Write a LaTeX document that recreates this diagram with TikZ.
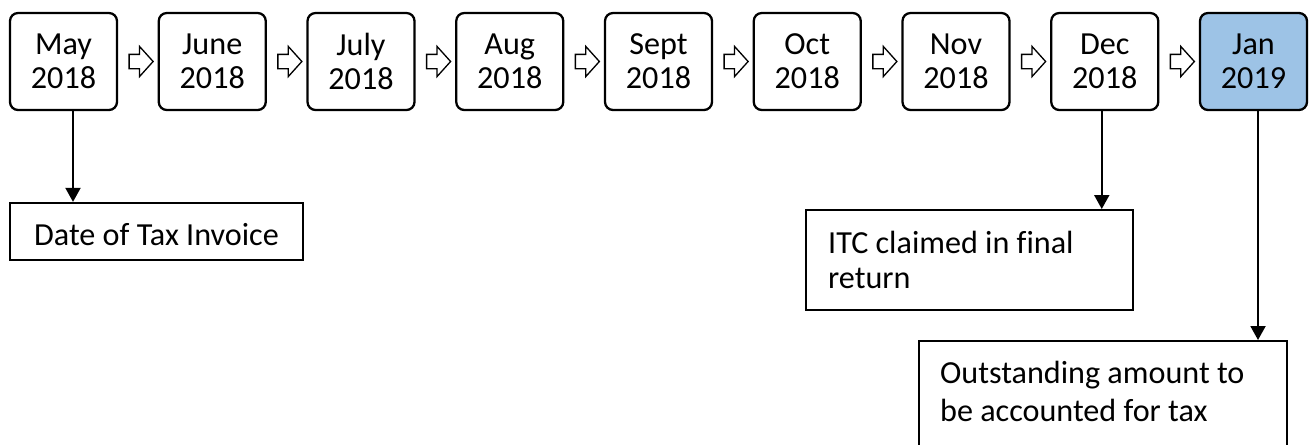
\documentclass[tikz,border=0pt]{standalone}
\usepackage{fontspec}
\setmainfont{Carlito}[Ligatures=CommonOff]
\usepackage{tikz}
\usepackage{xcolor}
\usetikzlibrary{shapes,arrows.meta,positioning,calc}
\definecolor{janblue}{HTML}{9DC3E6}

\begin{document}
\begin{tikzpicture}[
          x=0.02cm, y=-0.02cm,
          every node/.style={font=\fontsize{18.3pt}{19.4pt}\selectfont},
          month/.style={rectangle, draw, line width=1.3pt, rounded corners=0.16cm, minimum width=2.14cm, minimum height=1.94cm, inner sep=0pt, align=center},
          hop/.style={single arrow, draw, line width=0.75pt, minimum height=0.48cm, inner xsep=0pt, inner ysep=0.13cm, single arrow head extend=0.16cm, single arrow tip angle=96},
          note/.style={rectangle, draw, line width=1.3pt, anchor=north west, inner ysep=0pt, align=flush left},
          arrow/.style={-{Triangle[length=0.28cm, width=0.3cm]}, line width=1.1pt}
        ]
          \useasboundingbox (0,0) rectangle (1314,444);

          % Months
          \node[month] (may) at (63.5,61.5) {May\\2018};
          \node[month] (jun) at (212.25,61.5) {June\\2018};
          \node[month] (jul) at (361,61.5) {July\\2018};
          \node[month] (aug) at (509.75,61.5) {Aug\\2018};
          \node[month] (sep) at (658.5,61.5) {Sept\\2018};
          \node[month] (oct) at (807.25,61.5) {Oct\\2018};
          \node[month] (nov) at (956,61.5) {Nov\\2018};
          \node[month] (dec) at (1104.75,61.5) {Dec\\2018};
          \node[month, fill=janblue] (jan) at (1253.5,61.5) {Jan\\2019};

          % Hollow arrows between months
          \node[hop] (hop1) at ($(may.east)!0.5!(jun.west)$) {};
          \node[hop] (hop2) at ($(jun.east)!0.5!(jul.west)$) {};
          \node[hop] (hop3) at ($(jul.east)!0.5!(aug.west)$) {};
          \node[hop] (hop4) at ($(aug.east)!0.5!(sep.west)$) {};
          \node[hop] (hop5) at ($(sep.east)!0.5!(oct.west)$) {};
          \node[hop] (hop6) at ($(oct.east)!0.5!(nov.west)$) {};
          \node[hop] (hop7) at ($(nov.east)!0.5!(dec.west)$) {};
          \node[hop] (hop8) at ($(dec.east)!0.5!(jan.west)$) {};

          % Notes
          \node[rectangle, draw, line width=1.3pt, minimum width=5.86cm, minimum height=1.14cm, text height=0.54cm, text depth=0pt] (invoice) at (156.5,231.5) {Date of Tax Invoice};
          \node[note, inner xsep=0.44cm, text width=5.66cm] (itc) at (805,209)
            {\rule{0pt}{0.86cm}ITC claimed in final\\[0.02cm]return\rule[-0.44cm]{0pt}{0.44cm}};
          \node[note, inner xsep=0.42cm, text width=6.52cm] (outstanding) at (918,340)
            {\rule{0pt}{0.84cm}Outstanding amount to\\[0.08cm]be accounted for tax\rule[-0.6cm]{0pt}{0.6cm}};

          % Connectors
          \path ([xshift=0.19cm]may.south) coordinate (mayfoot);
          \path ([xshift=-0.06cm]dec.south) coordinate (decfoot);
          \path ([xshift=0.09cm]jan.south) coordinate (janfoot);
          \draw[arrow] (mayfoot) -- (mayfoot |- invoice.north);
          \draw[arrow] (decfoot) -- (decfoot |- itc.north);
          \draw[arrow] (janfoot) -- (janfoot |- outstanding.north);

        \end{tikzpicture}
\end{document}
